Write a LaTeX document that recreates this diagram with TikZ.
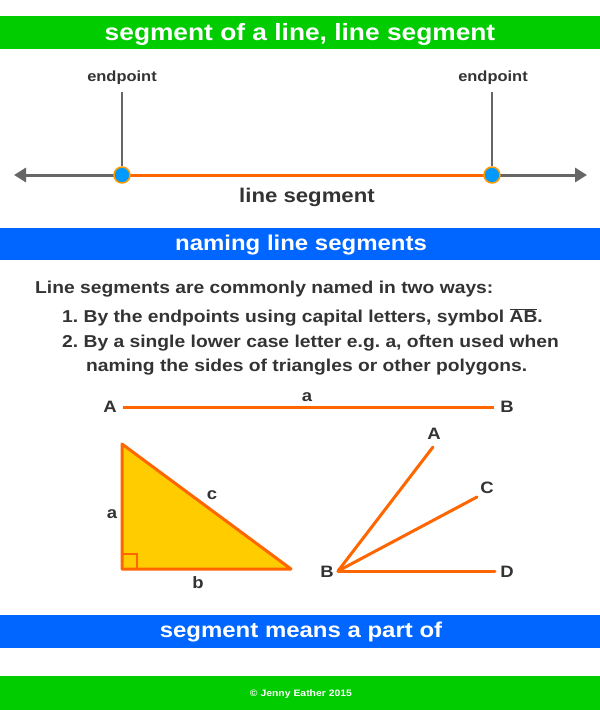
\documentclass[tikz,border=0pt]{standalone}
\usepackage{fontspec}
\setmainfont{Liberation Sans}[FakeStretch=1.12]
\usetikzlibrary{arrows.meta,calc}
\definecolor{bargreen}{HTML}{00CC00}
\definecolor{barblue}{HTML}{0066FF}
\definecolor{segorange}{HTML}{FF6600}
\definecolor{dotblue}{HTML}{0099FF}
\definecolor{dotring}{HTML}{FF9900}
\definecolor{txtgray}{HTML}{333333}
\definecolor{linegray}{HTML}{666666}
\definecolor{triyellow}{HTML}{FFCC00}
\frenchspacing
\begin{document}
\begin{tikzpicture}[x=1pt,y=-1pt,
  bartext/.style={text=white,font=\bfseries\fontsize{23.5}{26}\selectfont,anchor=base,inner sep=0pt},
  bartextb/.style={text=white,font=\bfseries\fontsize{21.4}{24}\selectfont,anchor=base,inner sep=0pt},
  foottext/.style={text=white,font=\bfseries\fontsize{9.3}{11}\selectfont,anchor=base,inner sep=0pt},
  smalltext/.style={text=txtgray,font=\bfseries\fontsize{14.7}{16}\selectfont,anchor=base,inner sep=0pt},
  bodytext/.style={text=txtgray,font=\bfseries\fontsize{17.2}{20}\selectfont,anchor=base west,inner sep=0pt},
  lbl/.style={text=txtgray,font=\bfseries\fontsize{16.5}{19}\selectfont,inner sep=0pt},
  seg/.style={draw=segorange,line width=3pt,line cap=round},
  endpt/.style={circle,fill=dotblue,draw=dotring,line width=1.5pt,minimum size=16pt,inner sep=0pt}
]
\useasboundingbox (0,0) rectangle (600,710);
\fill[white] (0,0) rectangle (600,710);
% bars
\fill[bargreen] (0,16) rectangle (600,49);
\node[bartext] (t1) at (300,40) {segment of a line, line segment};
\fill[barblue] (0,228) rectangle (600,260);
\node[bartextb] (t2) at (301,250) {naming line segments};
\fill[barblue] (0,615) rectangle (600,648);
\node[bartextb] (t3) at (301,637) {segment means a part of};
\fill[bargreen] (0,676) rectangle (600,710);
\node[foottext] (t4) at (301,696) {© Jenny Eather 2015};
% line with endpoints
\coordinate (L) at (14,175);
\coordinate (R) at (587,175);
\draw[linegray,line width=3pt,-{Triangle[length=12pt,width=14pt]}] (122,175) -- (L);
\draw[linegray,line width=3pt,-{Triangle[length=12pt,width=14pt]}] (492,175) -- (R);
\draw[seg,line cap=butt] (122,175) -- (492,175);
\node[endpt] (e1) at (122,175) {};
\node[endpt] (e2) at (492,175) {};
\node[smalltext] (ep1) at (122,81) {endpoint};
\node[smalltext] (ep2) at (493,81) {endpoint};
\draw[linegray,line width=1.5pt] (122,92) -- (e1);
\draw[linegray,line width=1.5pt] (492,92) -- (e2);
\node[text=txtgray,font=\bfseries\fontsize{19.8}{23}\selectfont,anchor=base,inner sep=0pt] (ls) at (307,202) {line segment};
% text
\node[bodytext] (p0) at (35,293) {Line segments are commonly named in two ways:};
\node[bodytext] (p1) at (62,322) {1. By the endpoints using capital letters, symbol $\overline{\mbox{AB}}$.};
\node[bodytext] (p2) at (62,347) {2. By a single lower case letter e.g. a, often used when};
\node[bodytext] (p3) at (86,371) {naming the sides of triangles or other polygons.};
% segment AB
\node[lbl] (A1) at (110,407) {A};
\node[lbl] (B1) at (507,407) {B};
\draw[seg,line cap=butt] ($(A1.east)+(6,0)$) -- ($(B1.west)+(-6,0)$);
\node[lbl] (la) at (307,397) {a};
% triangle
\coordinate (T1) at (122,444);
\coordinate (T2) at (122,569);
\coordinate (T3) at (291,569);
\filldraw[fill=triyellow,draw=segorange,line width=3pt,line join=round] (T1) -- (T2) -- (T3) -- cycle;
\draw[segorange,line width=2pt] (122,554) -- (137,554) -- (137,569);
\node[lbl] (sa) at (112,514) {a};
\node[lbl] (sc) at (212,495) {c};
\node[lbl] (sb) at (198,583) {b};
% fan
\coordinate (O) at (338,571);
\coordinate (FA) at (433,447);
\coordinate (FC) at (477,497);
\coordinate (FD) at (495,571);
\draw[seg] (O) -- (FA);
\draw[seg] (O) -- (FC);
\draw[seg] (O) -- (FD);
\node[lbl] (nB) at (327,572) {B};
\node[lbl] (nA) at (434,434) {A};
\node[lbl] (nC) at (487,488) {C};
\node[lbl] (nD) at (507,572) {D};
\end{tikzpicture}
\end{document}
